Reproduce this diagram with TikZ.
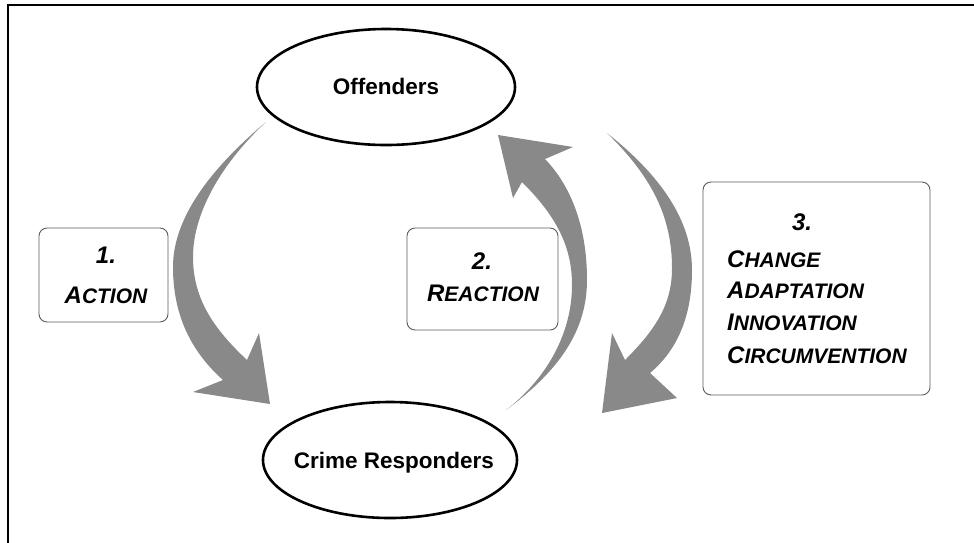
\documentclass[tikz,border=0pt]{standalone}
\usepackage{fontspec}
\setmainfont{Liberation Sans}
\usetikzlibrary{shapes.geometric}
\definecolor{arrowgray}{RGB}{137,137,137}
\definecolor{boxline}{RGB}{90,90,90}
% small-caps look: full-size initial, smaller capitals after it
\newcommand{\scword}[2]{{\fontsize{24}{28}\selectfont #1}{\fontsize{21}{24}\selectfont #2}}

\begin{document}
\begin{tikzpicture}[x=1pt,y=-1pt,
  actor/.style={ellipse, draw=black, line width=2.6pt, inner sep=0pt},
  actorlabel/.style={font=\fontsize{22.5}{27}\selectfont\bfseries, inner sep=0pt},
  stagebox/.style={draw=boxline, line width=0.9pt, rounded corners=8pt, inner sep=0pt},
  stagetext/.style={font=\fontsize{24}{28}\selectfont\bfseries\itshape, inner sep=0pt, anchor=base},
  cyclearrow/.style={fill=arrowgray, draw=none}]
\useasboundingbox (0,0) rectangle (974,542);
\clip (0,0) rectangle (974,542);

% outer frame
\draw[line width=2pt] (8,5) rectangle (990,560);

% the two actors
\node[actor, minimum width=258pt, minimum height=116pt] (off) at (386,87) {};
\node[actorlabel] (offtxt) at (386,86) {Offenders};
\node[actor, minimum width=254pt, minimum height=116pt] (resp) at (390,460) {};
\node[actorlabel] (resptxt) at (394,463) {Crime Responders};

% stage boxes
\node[stagebox, minimum width=129pt, minimum height=94pt] (box1) at (103.5,275) {};
\node[stagetext] (s1num) at (106,263) {1.};
\node[stagetext] (s1txt) at (106,303) {\scword{A}{CTION}};

\node[stagebox, minimum width=151pt, minimum height=102pt] (box2) at (482.5,279) {};
\node[stagetext] (s2num) at (482,269) {2.};
\node[stagetext] (s2txt) at (483,301) {\scword{R}{EACTION}};

\node[stagebox, minimum width=227pt, minimum height=213pt] (box3) at (816.5,288.5) {};
\node[stagetext] (s3num) at (802,230) {3.};
\node[stagetext, anchor=base west] (s3a) at (727,267) {\scword{C}{HANGE}};
\node[stagetext, anchor=base west] (s3b) at (727,298) {\scword{A}{DAPTATION}};
\node[stagetext, anchor=base west] (s3c) at (727,330) {\scword{I}{NNOVATION}};
\node[stagetext, anchor=base west] (s3d) at (727,363) {\scword{C}{IRCUMVENTION}};

% 1. action: offenders -> responders
\fill[cyclearrow] (266,122)
  .. controls (215,165) and (173,215) .. (173,267)
  .. controls (173,320) and (195,355) .. (223,380)
  -- (193,392) -- (270,404) -- (259,333) -- (247,360)
  .. controls (215,330) and (193,300) .. (193,257)
  .. controls (193,210) and (225,160) .. (266,122) -- cycle;

% 2. reaction: responders -> offenders
\fill[cyclearrow] (506,410)
  .. controls (560,370) and (587,330) .. (587,280)
  .. controls (587,225) and (570,185) .. (545,159)
  -- (573,147) -- (498,135) -- (513,198) -- (522,182)
  .. controls (555,215) and (572,245) .. (572,285)
  .. controls (572,335) and (545,380) .. (506,410) -- cycle;

% 3. change: offenders -> responders
\fill[cyclearrow] (607,133)
  .. controls (660,175) and (692,220) .. (692,270)
  .. controls (692,320) and (675,352) .. (650,373)
  -- (677,398) -- (602,413) -- (612,333) -- (625,360)
  .. controls (655,330) and (672,305) .. (672,268)
  .. controls (672,215) and (650,175) .. (607,133) -- cycle;
\end{tikzpicture}
\end{document}
